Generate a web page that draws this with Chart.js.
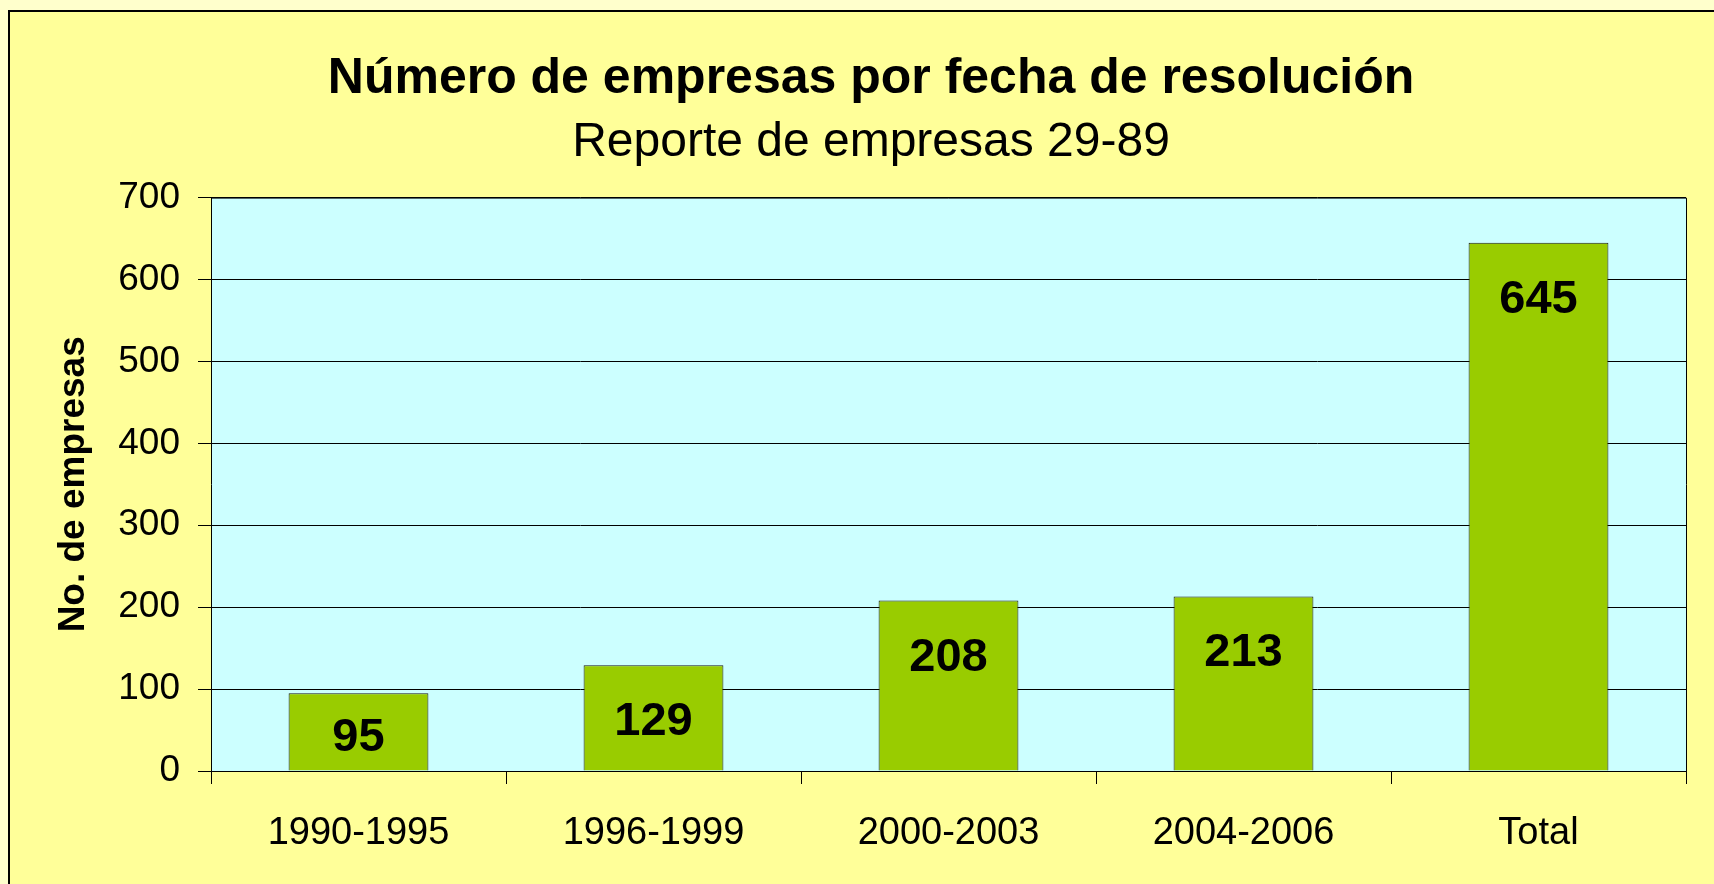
<!DOCTYPE html>
<html>
<head>
<meta charset="utf-8">
<script src="https://cdn.jsdelivr.net/npm/chart.js@4/dist/chart.umd.min.js"></script>
<style>
  body { margin: 0; background: #FFFFCC; }
  canvas { display: block; }
</style>
</head>
<body>
<canvas id="empresasChart" width="1714" height="884"></canvas>
<script>
const categories = ['1990-1995', '1996-1999', '2000-2003', '2004-2006', 'Total'];
const empresas = [95, 129, 208, 213, 645];
const yMin = 0;
const yMax = 700;
const yStep = 100;

const FONT = 'Arial, "Liberation Sans", sans-serif';

// page + plot backgrounds, plot frame
const backgroundPlugin = {
    id: 'backgrounds',
    beforeDraw(chart) {
        const c = chart.ctx;
        const a = chart.chartArea;
        c.save();
        c.fillStyle = '#FFFFCC';
        c.fillRect(0, 0, chart.width, chart.height);
        c.fillStyle = '#FFFF99';
        c.fillRect(9, 11, chart.width, chart.height);
        c.strokeStyle = '#000';
        c.lineWidth = 2;
        c.strokeRect(9, 11, chart.width + 10, chart.height + 10);
        c.fillStyle = '#CCFFFF';
        c.fillRect(a.left, a.top, a.right - a.left, a.bottom - a.top);
        c.restore();
    },
    afterDatasetsDraw(chart) {
        const c = chart.ctx;
        const a = chart.chartArea;
        c.save();
        c.strokeStyle = '#000';
        c.lineWidth = 1;
        c.beginPath();
        c.moveTo(a.left, a.top + 0.5);
        c.lineTo(a.right + 0.5, a.top + 0.5);
        c.lineTo(a.right + 0.5, a.bottom);
        c.stroke();
        c.restore();
    }
};

// value labels inside the bars
const valueLabels = {
    id: 'valueLabels',
    afterDatasetsDraw(chart) {
        const c = chart.ctx;
        const meta = chart.getDatasetMeta(0);
        c.save();
        c.font = 'bold 47px ' + FONT;
        c.fillStyle = '#000';
        c.textAlign = 'center';
        c.textBaseline = 'middle';
        meta.data.forEach((bar, i) => {
            const y = Math.min(bar.y + 57, (bar.y + bar.base) / 2 + 6);
            c.fillText(String(empresas[i]), bar.x, y);
        });
        c.restore();
    }
};

const ctx = document.getElementById('empresasChart').getContext('2d');

new Chart(ctx, {
    type: 'bar',
    data: {
        labels: categories,
        datasets: [{
            label: 'No. de empresas',
            data: empresas,
            backgroundColor: '#99CC00',
            borderColor: '#1a1a1a',
            borderWidth: 1,
            barPercentage: 0.474,
            categoryPercentage: 1
        }]
    },
    options: {
        responsive: false,
        animation: false,
        layout: { padding: { left: 56, right: 28, top: 10, bottom: 0 } },
        plugins: {
            legend: { display: false },
            tooltip: { enabled: false },
            title: {
                display: true,
                text: 'Número de empresas por fecha de resolución',
                color: '#000',
                font: { family: FONT, size: 50, weight: 'bold', lineHeight: 1.2 },
                padding: { top: 39, bottom: 0 }
            },
            subtitle: {
                display: true,
                text: 'Reporte de empresas 29-89',
                color: '#000',
                font: { family: FONT, size: 48, weight: 'normal', lineHeight: 1.2 },
                padding: { top: 5, bottom: 26 }
            }
        },
        scales: {
            x: {
                offset: true,
                grid: {
                    offset: true,
                    drawOnChartArea: false,
                    drawTicks: true,
                    tickLength: 13,
                    color: '#000'
                },
                border: { color: '#000', width: 1 },
                ticks: {
                    color: '#000',
                    font: { family: FONT, size: 38 },
                    padding: 27,
                    maxRotation: 0
                },
                afterFit(scale) { scale.height = 113; }
            },
            y: {
                min: yMin,
                max: yMax,
                ticks: {
                    stepSize: yStep,
                    color: '#000',
                    font: { family: FONT, size: 37 },
                    padding: 18
                },
                grid: {
                    color: '#000',
                    tickLength: 13
                },
                border: { color: '#000', width: 1 },
                title: {
                    display: true,
                    text: 'No. de empresas',
                    color: '#000',
                    font: { family: FONT, size: 37, weight: 'bold', lineHeight: 1.2 },
                    padding: { top: -4, bottom: 0 }
                },
                afterFit(scale) { scale.width = 155; }
            }
        }
    },
    plugins: [backgroundPlugin, valueLabels]
});
</script>
</body>
</html>
